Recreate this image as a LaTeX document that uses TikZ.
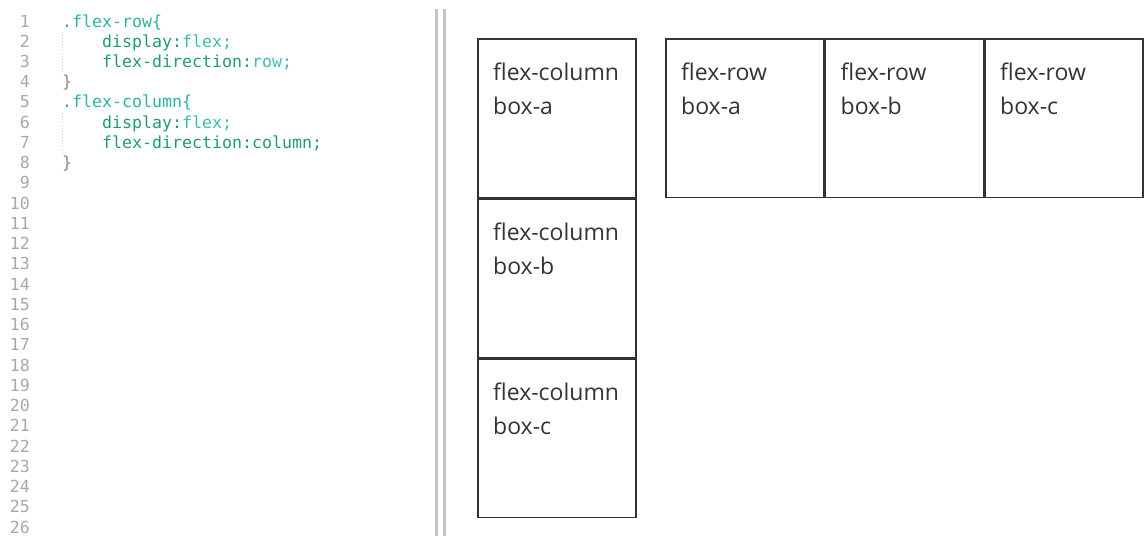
\documentclass[tikz,border=0pt]{standalone}
\usepackage{fontspec}
\setmainfont{Open Sans}
\setmonofont{DejaVu Sans Mono}
\usetikzlibrary{positioning,calc}
\usepackage{xcolor}

\definecolor{linenum}{HTML}{A8A8A8}
\definecolor{selcol}{HTML}{2BB3A3}
\definecolor{propcol}{HTML}{1F9C74}
\definecolor{valcol}{HTML}{3DBDB0}
\definecolor{bracecol}{HTML}{8C8C74}
\definecolor{boxline}{HTML}{333333}
\definecolor{boxtext}{HTML}{333333}
\definecolor{splitter}{HTML}{C4C4C4}

\begin{document}
\begin{tikzpicture}[x=1pt,y=1pt]

	\tikzstyle{lineno}=[anchor=base east, inner sep=0pt, text=linenum, font=\fontsize{16.6}{20}\ttfamily];
	\tikzstyle{codeline}=[anchor=base west, inner sep=0pt, font=\fontsize{16.6}{20}\ttfamily];
	\tikzstyle{flexbox}=[draw=boxline, line width=1.5pt, rectangle, inner sep=0pt, minimum width=158pt, minimum height=158.5pt];
	\tikzstyle{boxlabel}=[inner sep=0pt, align=left, text=boxtext, font=\fontsize{23}{34.5}\selectfont];
	\tikzstyle{guide}=[draw=splitter!70, dotted, line width=1pt];

	\useasboundingbox (0,0) rectangle (1144,-536);

    % line numbers of the editor
    \foreach \i in {1,...,26}
    	\node (ln\i) [lineno] at (30,{-27-(\i-1)*20.24}) {\i};

    % css source
    \node (code1) [codeline] at (62,-27) {\color{selcol}.flex-row\{};
    \node (code2) [codeline] at (102,{-27-20.24}) {\color{propcol}display:\color{valcol}flex;};
    \node (code3) [codeline] at (102,{-27-2*20.24}) {\color{propcol}flex-direction:\color{valcol}row;};
    \node (code4) [codeline] at (62,{-27-3*20.24}) {\color{bracecol}\}};
    \node (code5) [codeline] at (62,{-27-4*20.24}) {\color{selcol}.flex-column\{};
    \node (code6) [codeline] at (102,{-27-5*20.24}) {\color{propcol}display:\color{valcol}flex;};
    \node (code7) [codeline] at (102,{-27-6*20.24}) {\color{propcol}flex-direction:column;};
    \node (code8) [codeline] at (62,{-27-7*20.24}) {\color{bracecol}\}};

    \draw[guide] ([xshift=-40pt,yshift=2pt]code2.north west) -- ([xshift=-40pt,yshift=-3pt]code3.south west);
    \draw[guide] ([xshift=-40pt,yshift=2pt]code6.north west) -- ([xshift=-40pt,yshift=-3pt]code7.south west);

    % splitter between editor and preview
    \draw[splitter, line width=2.5pt] (436.5,-9) -- (436.5,-536);
    \draw[splitter, line width=2.5pt] (444.5,-9) -- (444.5,-536);

    % flex-column boxes
    \begin{scope}
    	\node (col_a) [flexbox, anchor=north west] at (477,-38) {};
    	\node (col_b) [flexbox, below = 0pt of col_a] {};
    	\node (col_c) [flexbox, below = 0pt of col_b] {};

    	\node (col_a_text) [boxlabel, below right = 24.5pt and 16pt of col_a.north west] {flex-column\\box-a};
    	\node (col_b_text) [boxlabel, below right = 24.5pt and 16pt of col_b.north west] {flex-column\\box-b};
    	\node (col_c_text) [boxlabel, below right = 24.5pt and 16pt of col_c.north west] {flex-column\\box-c};
    \end{scope}

    % flex-row boxes
    \begin{scope}
    	\node (row_a) [flexbox, anchor=north west] at (665,-38) {};
    	\node (row_b) [flexbox, right = 0pt of row_a] {};
    	\node (row_c) [flexbox, right = 0pt of row_b] {};

    	\node (row_a_text) [boxlabel, below right = 24.5pt and 16pt of row_a.north west] {flex-row\\box-a};
    	\node (row_b_text) [boxlabel, below right = 24.5pt and 16pt of row_b.north west] {flex-row\\box-b};
    	\node (row_c_text) [boxlabel, below right = 24.5pt and 16pt of row_c.north west] {flex-row\\box-c};
    \end{scope}

\end{tikzpicture}
\end{document}
